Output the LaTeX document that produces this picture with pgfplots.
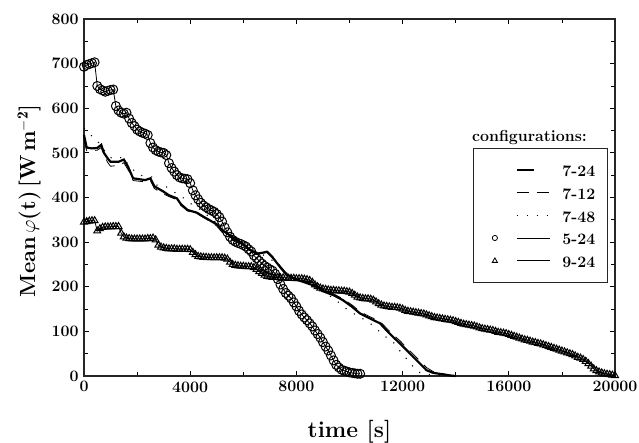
\documentclass[border=0pt]{standalone}
\usepackage{fontspec}
\usepackage{pgfplots}
\pgfplotsset{compat=1.18}
\newcommand\tf{\bfseries\fontsize{16}{19}\selectfont}
\newcommand\xlf{\bfseries\fontsize{23}{27}\selectfont}
\newcommand\ylf{\bfseries\fontsize{22}{26}\selectfont}
\begin{document}
\begin{tikzpicture}
\begin{axis}[
  scale only axis, width=531bp, height=357bp,
  xmin=0, xmax=20000, ymin=0, ymax=800,
  xtick={0,4000,...,20000}, minor xtick={2000,6000,...,18000},
  ytick={0,100,...,800}, minor ytick={50,150,...,750},
  tick align=inside, tick pos=both,
  major tick length=5bp, minor tick length=4bp,
  every tick/.style={black, line width=0.8bp},
  axis line style={line width=1.3bp, black!85},
  tick label style={font=\tf},
  /pgf/number format/assume math mode=true,
  /pgf/number format/1000 sep={},
  scaled x ticks=false, scaled y ticks=false,
  xticklabel style={yshift=-2bp},
  yticklabel style={xshift=-2bp},
  clip=false,
  xlabel={time [s]}, ylabel={Mean\,$\varphi$(t)\,[W\,m$^{\mathbf{-2}}$]},
  x label style={font=\xlf, at={(axis description cs:0.5,-0.157)}, anchor=center},
  y label style={font=\ylf, at={(axis description cs:-0.1036,0.49)}, anchor=center},
  legend cell align=left,
  legend style={at={(axis description cs:0.9863,0.6387)}, anchor=north east,
    draw=black!85, line width=0.8bp, font=\tf, inner xsep=12bp, inner ysep=14.5bp,
    row sep=8.7bp, nodes={inner sep=0bp, text height=14bp, text depth=0bp},
    /tikz/every odd column/.append style={column sep=12bp}},
]
\addplot[black, line width=2.2bp] coordinates {
(0,540)(100,512)(300,510)(500,511)(650,518)(750,500)(900,487)(1000,480)(1300,480)(1500,485)(1650,470)(1850,443)(2300,439)(2500,443)(2650,425)(3000,413)(3200,405)(3500,398)(3650,385)(3900,372)(4250,366)(4500,357)(4850,345)(5000,340)(5200,327)(5500,315)(5800,303)(6000,295)(6200,285)(6500,274)(6700,276)(6900,278)(7100,266)(7400,243)(7600,229)(7800,222)(8000,216)(8300,210)(8600,204)(8800,199)(9000,190)(9400,181)(9750,170)(10100,155)(10400,140)(10800,128)(11150,118)(11400,102)(11650,87)(11900,73)(12150,58)(12400,43)(12650,28)(12900,13)(13150,7)(13500,4)(13800,1)(14000,0)};
\addlegendentry{7-24}
\addplot[black, line width=0.8bp, dash pattern=on 12bp off 8bp,
  legend image code/.code={\draw[line width=0.8bp, dash pattern=on 12bp off 8bp] (0bp,0bp)--(33bp,0bp);}] coordinates {
(0,530)(100,505)(300,505)(500,506)(650,512)(750,495)(900,478)(1000,470)(1300,472)(1500,478)(1650,463)(1850,438)(2300,435)(2500,438)(2650,420)(3000,408)(3200,402)(3500,395)(3650,382)(3900,370)(4250,364)(4500,355)(4850,343)(5000,336)(5200,322)(5500,312)(5800,300)(6000,292)(6200,283)(6500,273)(6700,278)(6900,280)(7100,268)(7400,246)(7600,232)(7800,224)(8000,218)(8300,211)(8600,206)(8800,201)(9000,193)(9400,184)(9750,173)(10100,159)(10400,144)(10800,132)(11150,122)(11400,107)(11650,92)(11900,79)(12150,64)(12400,49)(12650,34)(12900,19)(13150,10)(13500,5)(13800,2)(14000,0)};
\addlegendentry{7-12}
\addplot[black, line width=1.1bp, dash pattern=on 1.1bp off 8.8bp,
  legend image code/.code={\draw[line width=1.1bp, dash pattern=on 1.1bp off 8.8bp] (0bp,0bp)--(33bp,0bp);}] coordinates {
(0,555)(250,540)(480,529)(700,510)(1040,488)(1300,488)(1480,491)(1700,470)(2100,450)(2550,446)(2740,428)(3100,424)(3400,412)(3620,405)(4000,387)(4400,372)(4850,350)(5200,332)(5600,312)(6000,297)(6400,280)(6800,270)(7200,255)(7600,232)(8000,218)(8400,208)(8700,198)(9000,188)(9300,178)(9640,163)(9950,147)(10300,135)(10600,125)(10960,110)(11260,91)(11600,80)(11830,61)(12090,43)(12350,24)(12580,9)(12950,4)(13300,1)(13600,0)};
\addlegendentry{7-48}
\addplot[black, line width=0.8bp, mark=o, mark size=4.5bp, mark options={fill=white, line width=1bp},
  legend image code/.code={\path (-31.5bp,0bp); \draw[line width=0.8bp] (0bp,0bp)--(33bp,0bp); \draw[line width=0.8bp] (-22bp,0bp) circle (2.6bp);}] coordinates {
(0,693)(100,697)(200,699)(300,701)(400,703)(500,650)(600,643)(700,640)(800,637)(900,639)(1000,641)(1100,642)(1200,605)(1300,595)(1400,590)(1500,588)(1600,590)(1700,577)(1800,567)(1900,560)(2000,552)(2100,548)(2200,545)(2300,543)(2400,540)(2500,522)(2600,512)(2700,506)(2800,503)(2900,501)(3000,500)(3100,495)(3200,477)(3300,466)(3400,458)(3500,450)(3600,445)(3700,443)(3800,442)(3900,441)(4000,432)(4100,416)(4200,405)(4300,396)(4400,388)(4500,382)(4600,378)(4700,374)(4800,371)(4900,368)(5000,363)(5100,356)(5200,346)(5300,333)(5400,322)(5500,312)(5600,305)(5700,301)(5800,298)(5900,296)(6000,293)(6100,290)(6200,284)(6300,279)(6400,270)(6500,264)(6600,258)(6700,252)(6800,247)(6900,243)(7000,239)(7100,236)(7200,229)(7300,217)(7400,205)(7500,195)(7600,186)(7700,180)(7800,174)(7900,165)(8000,156)(8100,146)(8200,138)(8300,131)(8400,125)(8500,118)(8600,111)(8700,102)(8800,94)(8900,86)(9000,76)(9100,66)(9200,57)(9300,46)(9400,35)(9500,25)(9600,19)(9700,14)(9800,12)(9900,10)(10000,8)(10100,7)(10200,6)(10300,5)(10400,5)};
\addlegendentry{5-24}
\addplot[black, line width=0.8bp, mark=triangle, mark size=4bp, mark options={fill=white, line width=1bp},
  legend image code/.code={\draw[line width=0.8bp] (0bp,0bp)--(33bp,0bp); \draw[line width=0.8bp] (-24.6bp,-1.7bp)--(-19.4bp,-1.7bp)--(-22bp,2.8bp)--cycle;}] coordinates {
(0,345)(100,346)(200,347)(300,348)(400,348)(500,325)(600,330)(700,333)(800,334)(900,334)(1000,334)(1100,335)(1200,335)(1300,335)(1400,320)(1500,312)(1600,309)(1700,308)(1800,307)(1900,307)(2000,307)(2100,307)(2200,307)(2300,307)(2400,308)(2500,308)(2600,309)(2700,305)(2800,293)(2900,289)(3000,287)(3100,286)(3200,285)(3300,285)(3400,285)(3500,284)(3600,284)(3700,284)(3800,284)(3900,284)(4000,283)(4100,277)(4200,272)(4300,268)(4400,267)(4500,266)(4600,266)(4700,265)(4800,265)(4900,265)(5000,265)(5100,265)(5200,265)(5300,264)(5400,262)(5500,255)(5600,250)(5700,248)(5800,247)(5900,246)(6000,246)(6100,245)(6200,245)(6300,245)(6400,243)(6500,239)(6600,234)(6700,230)(6800,226)(6900,223)(7000,222)(7100,221)(7200,221)(7300,221)(7400,220)(7500,220)(7600,220)(7700,219)(7800,219)(7900,219)(8000,218)(8100,218)(8200,218)(8300,217)(8400,216)(8500,214)(8600,210)(8700,204)(8800,200)(8900,197)(9000,195)(9100,194)(9200,193)(9300,192)(9400,192)(9500,191)(9600,191)(9700,190)(9800,190)(9900,189)(10000,188)(10100,185)(10200,181)(10300,177)(10400,175)(10500,174)(10600,173)(10700,173)(10800,172)(10900,170)(11000,166)(11100,162)(11200,159)(11300,157)(11400,156)(11500,155)(11600,154)(11700,154)(11800,153)(11900,152)(12000,150)(12100,147)(12200,145)(12300,144)(12400,143)(12500,142)(12600,141)(12700,140)(12800,139)(12900,137)(13000,135)(13100,133)(13200,131)(13300,130)(13400,129)(13500,128)(13600,127)(13700,126)(13800,125)(13900,124)(14000,122)(14100,120)(14200,118)(14300,116)(14400,115)(14500,114)(14600,113)(14700,112)(14800,110)(14900,108)(15000,106)(15100,105)(15200,104)(15300,103)(15400,102)(15500,100)(15600,98)(15700,97)(15800,96)(15900,95)(16000,93)(16100,91)(16200,89)(16300,87)(16400,85)(16500,83)(16600,81)(16700,80)(16800,78)(16900,76)(17000,75)(17100,73)(17200,72)(17300,70)(17400,68)(17500,66)(17600,64)(17700,62)(17800,60)(17900,58)(18000,56)(18100,54)(18200,52)(18300,50)(18400,48)(18500,45)(18600,42)(18700,40)(18800,37)(18900,33)(19000,28)(19100,22)(19200,16)(19300,12)(19400,9)(19500,7)(19600,5)(19700,4)(19800,3)(19900,2)(20000,1)};
\addlegendentry{9-24}
\node[font=\tf] at (axis description cs:0.839,0.6667) {configurations:};
\coordinate (bbSW) at (axis description cs:-0.15819,-0.18768);
\coordinate (bbNE) at (axis description cs:1.04520,1.05322);
\end{axis}
\pgfresetboundingbox
\path (bbSW) rectangle (bbNE);
\end{tikzpicture}
\end{document}
